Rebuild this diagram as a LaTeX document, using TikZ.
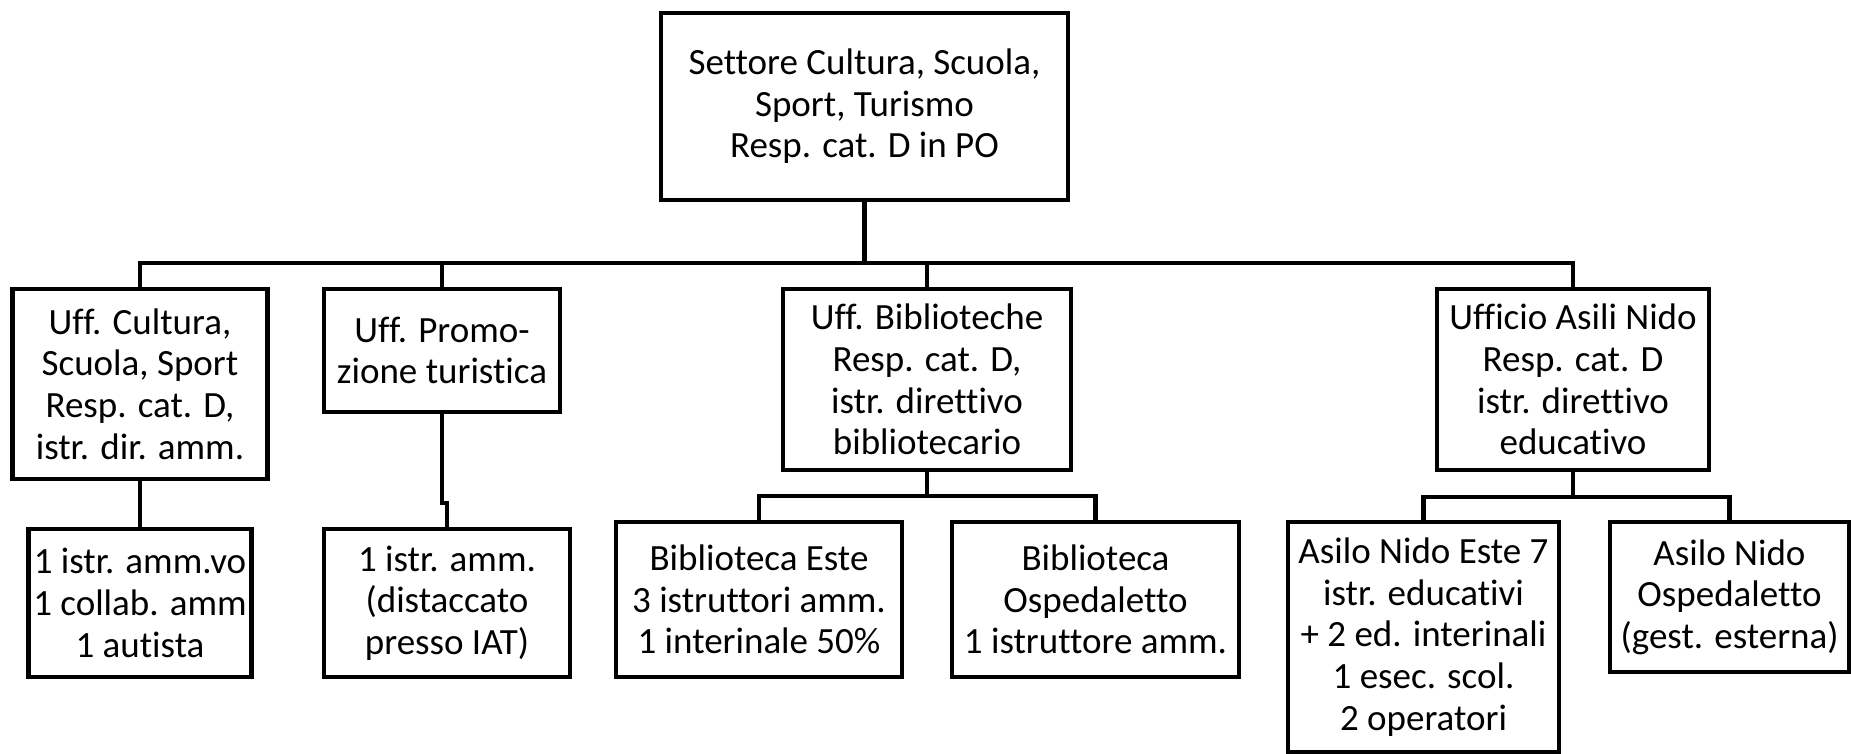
\documentclass[tikz,border=0pt]{standalone}
\usepackage{fontspec}
\setmainfont{Carlito}[Ligatures=NoCommon]
\begin{document}
\begin{tikzpicture}[x=0.5pt,y=-0.5pt,
    box/.style={draw,line width=2.2pt,align=center,inner sep=0pt,
      font=\fontsize{18.5}{20.8}\selectfont},
    conn/.style={line width=2.2pt}]
  \useasboundingbox (0,0) rectangle (1851,754);

  \node[box,minimum width=203.5pt,minimum height=93.5pt] (Sett) at (864.5,106.5)
    {Settore Cultura, Scuola,\\Sport, Turismo\\Resp. cat. D in PO};

  \node[box,minimum width=127.5pt,minimum height=95pt] (Cult) at (140,384)
    {Uff. Cultura,\\Scuola, Sport\\Resp. cat. D,\\istr. dir. amm.};
  \node[box,minimum width=118pt,minimum height=61.5pt] (Promo) at (442,350.5)
    {Uff. Promo-\\zione turistica};
  \node[box,minimum width=144pt,minimum height=90.5pt] (Bibl) at (927,379.5)
    {Uff. Biblioteche\\Resp. cat. D,\\istr. direttivo\\bibliotecario};
  \node[box,minimum width=136pt,minimum height=90.5pt] (Asili) at (1573,379.5)
    {Ufficio Asili Nido\\Resp. cat. D\\istr. direttivo\\educativo};

  \node[box,minimum width=111.5pt,minimum height=74pt] (Cult1) at (140,603)
    {1 istr. amm.vo\\1 collab. amm\\1 autista};
  \node[box,minimum width=123pt,minimum height=74pt] (Promo1) at (447,603)
    {1 istr. amm.\\(distaccato\\presso IAT)};
  \node[box,minimum width=143pt,minimum height=77.5pt] (BiblEste) at (759,599.5)
    {Biblioteca Este\\3 istruttori amm.\\1 interinale 50\%};
  \node[box,minimum width=143.5pt,minimum height=77.5pt] (BiblOsp) at (1095.5,599.5)
    {Biblioteca\\Ospedaletto\\1 istruttore amm.};
  \node[box,minimum width=135.5pt,minimum height=115pt] (NidoEste) at (1423.5,637)
    {Asilo Nido Este 7\\istr. educativi\\+ 2 ed. interinali\\1 esec. scol.\\2 operatori};
  \node[box,minimum width=119.5pt,minimum height=75pt] (NidoOsp) at (1729.5,597)
    {Asilo Nido\\Ospedaletto\\(gest. esterna)};

  % main bus
  \coordinate (Bus) at (864.5,263);
  \draw[conn] (Sett.south) -- (Bus);
  \draw[conn] (Bus) -| (Cult.north);
  \draw[conn] (Bus) -| (Promo.north);
  \draw[conn] (Bus) -| (Bibl.north);
  \draw[conn] (Bus) -| (Asili.north);

  % second level
  \draw[conn] (Cult.south) -- (Cult1.north);
  \coordinate (Jog) at (442,503);
  \draw[conn] (Promo.south) -- (Jog) -| (Promo1.north);
  \coordinate (BiblBus) at (927,496);
  \draw[conn] (Bibl.south) -- (BiblBus) -| (BiblEste.north);
  \draw[conn] (BiblBus) -| (BiblOsp.north);
  \coordinate (AsiliBus) at (1573,497);
  \draw[conn] (Asili.south) -- (AsiliBus) -| (NidoEste.north);
  \draw[conn] (AsiliBus) -| (NidoOsp.north);
\end{tikzpicture}
\end{document}
